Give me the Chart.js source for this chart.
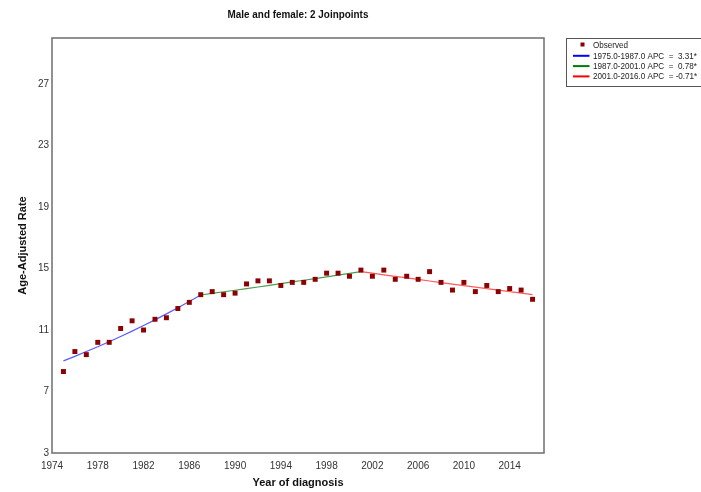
<!DOCTYPE html>
<html>
<head>
<meta charset="utf-8">
<title>Male and female: 2 Joinpoints</title>
<script src="https://cdn.jsdelivr.net/npm/chart.js@4.4.1/dist/chart.umd.min.js"></script>
<style>
  html, body { margin: 0; padding: 0; background: #ffffff; }
  #wrap { width: 701px; height: 492px; }
</style>
</head>
<body>
<div id="wrap"><canvas id="chart" width="701" height="492"></canvas></div>
<script>
// Observed age-adjusted rates by year of diagnosis
const years = [1975, 1976, 1977, 1978, 1979, 1980, 1981, 1982, 1983, 1984, 1985, 1986, 1987,
  1988, 1989, 1990, 1991, 1992, 1993, 1994, 1995, 1996, 1997, 1998, 1999, 2000, 2001,
  2002, 2003, 2004, 2005, 2006, 2007, 2008, 2009, 2010, 2011, 2012, 2013, 2014, 2015, 2016];
const observed = [8.3, 9.6, 9.4, 10.2, 10.2, 11.1, 11.6, 11.0, 11.7, 11.8, 12.4, 12.8, 13.3,
  13.5, 13.3, 13.4, 14.0, 14.2, 14.2, 13.9, 14.1, 14.1, 14.3, 14.7, 14.7, 14.5, 14.9,
  14.5, 14.9, 14.3, 14.5, 14.3, 14.8, 14.1, 13.6, 14.1, 13.5, 13.9, 13.5, 13.7, 13.6, 13.0];

// Joinpoint segments (modelled rates)
const seg1Years = [1975, 1976, 1977, 1978, 1979, 1980, 1981, 1982, 1983, 1984, 1985, 1986, 1987];
const seg1Rates = [8.99, 9.29, 9.60, 9.91, 10.24, 10.58, 10.93, 11.29, 11.66, 12.05, 12.45, 12.86, 13.28];
const seg2Years = [1987, 1988, 1989, 1990, 1991, 1992, 1993, 1994, 1995, 1996, 1997, 1998, 1999, 2000, 2001];
const seg2Rates = [13.28, 13.38, 13.49, 13.59, 13.70, 13.80, 13.91, 14.02, 14.13, 14.24, 14.35, 14.46, 14.57, 14.69, 14.80];
const seg3Years = [2001, 2002, 2003, 2004, 2005, 2006, 2007, 2008, 2009, 2010, 2011, 2012, 2013, 2014, 2015, 2016];
const seg3Rates = [14.80, 14.70, 14.59, 14.49, 14.39, 14.29, 14.19, 14.09, 13.99, 13.89, 13.79, 13.69, 13.60, 13.50, 13.40, 13.31];

const legendLabels = ['Observed', '1975.0-1987.0 APC  =  3.31*', '1987.0-2001.0 APC  =  0.78*', '2001.0-2016.0 APC  = -0.71*'];

// Axis ticks
const xTicks = [1974, 1978, 1982, 1986, 1990, 1994, 1998, 2002, 2006, 2010, 2014];
const yTicks = [3, 7, 11, 15, 19, 23, 27];

const chartTitle = 'Male and female: 2 Joinpoints';
const xTitle = 'Year of diagnosis';
const yTitle = 'Age-Adjusted Rate';

const FONT = "'Liberation Sans', Arial, sans-serif";

const toPoints = (xs, ys) => xs.map((x, i) => ({ x: x, y: ys[i] }));

const markerColor = '#8b0000';
const segStyles = [
  { line: '#5a5aff', key: '#0000ff' },
  { line: '#4f9a4f', key: '#007a00' },
  { line: '#ff5a5a', key: '#ff0000' }
];

// Text squeezed horizontally to a narrow face
function narrowText(ctx, text, x, y, squeeze) {
  ctx.save();
  ctx.translate(x, y);
  ctx.scale(squeeze, 1);
  ctx.fillText(text, 0, 0);
  ctx.restore();
}

// Frame around the plot, title and legend box
const decorations = {
  id: 'decorations',
  afterDraw(chart) {
    const { ctx, chartArea: a } = chart;
    ctx.save();
    ctx.strokeStyle = '#6e6e6e';
    ctx.lineWidth = 1.5;
    ctx.strokeRect(a.left, a.top, a.right - a.left, a.bottom - a.top);

    ctx.fillStyle = '#111';
    ctx.font = 'bold 11px ' + FONT;
    ctx.textAlign = 'center';
    ctx.textBaseline = 'middle';
    narrowText(ctx, chartTitle, (a.left + a.right) / 2, 15, 0.9);

    // legend
    const lx = 566.5, ly = 38.5;
    ctx.lineWidth = 1;
    ctx.strokeStyle = '#555';
    ctx.strokeRect(lx, ly, 160, 48);
    ctx.font = '9px ' + FONT;
    ctx.textAlign = 'left';
    const rowY = i => 45.5 + i * 10.3;
    ctx.fillStyle = markerColor;
    ctx.fillRect(580.5, rowY(0) - 3, 4, 4);
    ctx.fillStyle = '#222';
    narrowText(ctx, legendLabels[0], 593, rowY(0) + 0.5, 0.9);
    for (let i = 1; i < legendLabels.length; i++) {
      const y = rowY(i);
      ctx.strokeStyle = segStyles[i - 1].key;
      ctx.lineWidth = 2;
      ctx.beginPath();
      ctx.moveTo(573, y);
      ctx.lineTo(589.5, y);
      ctx.stroke();
      ctx.fillStyle = '#222';
      narrowText(ctx, legendLabels[i], 593, y + 0.5, 0.9);
    }
    ctx.restore();
  }
};

new Chart(document.getElementById('chart'), {
  type: 'scatter',
  data: {
    datasets: [
      {
        label: legendLabels[0],
        data: toPoints(years, observed),
        showLine: false,
        pointStyle: 'rect',
        pointRadius: 3.5,
        pointBackgroundColor: markerColor,
        pointBorderColor: markerColor,
        pointBorderWidth: 0
      },
      {
        label: legendLabels[1],
        data: toPoints(seg1Years, seg1Rates),
        showLine: true, pointRadius: 0, borderWidth: 1.2,
        borderColor: segStyles[0].line, tension: 0
      },
      {
        label: legendLabels[2],
        data: toPoints(seg2Years, seg2Rates),
        showLine: true, pointRadius: 0, borderWidth: 1.2,
        borderColor: segStyles[1].line, tension: 0
      },
      {
        label: legendLabels[3],
        data: toPoints(seg3Years, seg3Rates),
        showLine: true, pointRadius: 0, borderWidth: 1.2,
        borderColor: segStyles[2].line, tension: 0
      }
    ]
  },
  options: {
    responsive: false,
    animation: false,
    devicePixelRatio: 1,
    layout: { padding: { top: 38, right: 157, left: 0, bottom: 0 } },
    plugins: {
      legend: { display: false },
      title: { display: false },
      tooltip: { enabled: false }
    },
    scales: {
      x: {
        type: 'linear',
        min: 1974,
        max: 2017,
        afterBuildTicks: s => { s.ticks = xTicks.map(v => ({ value: v })); },
        afterFit: s => { s.height = 39; },
        grid: { display: false, drawTicks: false },
        border: { display: false },
        ticks: {
          autoSkip: false, maxRotation: 0, padding: 7,
          color: '#333', font: { family: FONT, size: 10 },
          callback: v => String(v)
        },
        title: {
          display: true, text: xTitle, color: '#111',
          font: { family: FONT, size: 11, weight: 'bold' },
          padding: { top: 0, bottom: 2 }
        }
      },
      y: {
        type: 'linear',
        min: 3,
        max: 30,
        afterBuildTicks: s => { s.ticks = yTicks.map(v => ({ value: v })); },
        afterFit: s => { s.width = 52; },
        grid: { display: false, drawTicks: false },
        border: { display: false },
        ticks: {
          padding: 3,
          color: '#333', font: { family: FONT, size: 10 },
          callback: v => String(v)
        },
        title: {
          display: true, text: yTitle, color: '#111',
          font: { family: FONT, size: 11, weight: 'bold' },
          padding: { top: 16, bottom: 0 }
        }
      }
    }
  },
  plugins: [decorations]
});
</script>
</body>
</html>
